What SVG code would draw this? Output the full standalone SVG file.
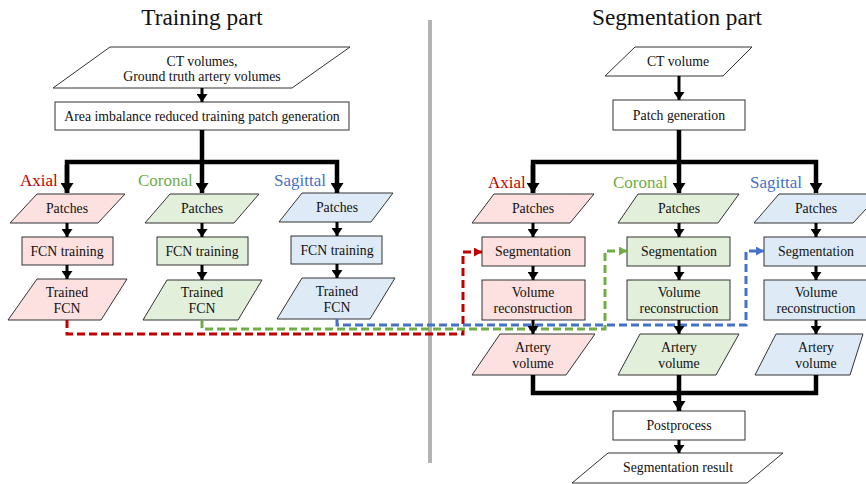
<svg xmlns="http://www.w3.org/2000/svg" width="866" height="484" viewBox="0 0 866 484">
<style>
  text { font-family: "Liberation Serif", "Times New Roman", serif; fill: #111; text-anchor: middle; }
  .t { font-size: 13.8px; }
  .title { font-size: 23.3px; }
  .lab { font-size: 17px; text-anchor: start; }
  .n { stroke: #333; stroke-width: 1; }
  .w { fill: #fff; }
  .r { fill: #fde0e0; }
  .g { fill: #e2efda; }
  .b { fill: #deebf7; }
  .thin { stroke: #000; stroke-width: 3; fill: none; }
  .thick { stroke: #000; stroke-width: 4.5; fill: none; }
  .dash { stroke-width: 3; fill: none; stroke-dasharray: 8 4; }
</style>
<defs>
  <marker id="ah" markerUnits="userSpaceOnUse" markerWidth="11" markerHeight="11" refX="8" refY="5.5" orient="auto" viewBox="0 0 8 11">
    <path d="M0,0 L8,5.5 L0,11 z" fill="#000"/>
  </marker>
  <marker id="ahT" markerUnits="userSpaceOnUse" markerWidth="10" markerHeight="13" refX="10" refY="6.5" orient="auto" viewBox="0 0 10 13">
    <path d="M0,0 L10,6.5 L0,13 z" fill="#000"/>
  </marker>
  <marker id="ahR" markerUnits="userSpaceOnUse" markerWidth="8" markerHeight="9" refX="8" refY="4.5" orient="auto" viewBox="0 0 8 9">
    <path d="M0,0 L8,4.5 L0,9 z" fill="#c00000"/>
  </marker>
  <marker id="ahG" markerUnits="userSpaceOnUse" markerWidth="8" markerHeight="9" refX="8" refY="4.5" orient="auto" viewBox="0 0 8 9">
    <path d="M0,0 L8,4.5 L0,9 z" fill="#70ad47"/>
  </marker>
  <marker id="ahB" markerUnits="userSpaceOnUse" markerWidth="8" markerHeight="9" refX="8" refY="4.5" orient="auto" viewBox="0 0 8 9">
    <path d="M0,0 L8,4.5 L0,9 z" fill="#4472c4"/>
  </marker>
</defs>

<rect width="866" height="484" fill="#fff"/>

<!-- titles and labels -->
<text class="title" x="202" y="25">Training part</text>
<text class="title" x="677" y="25">Segmentation part</text>
<line x1="430" y1="20" x2="430" y2="463" stroke="#b3b3b3" stroke-width="4"/>

<text class="lab" x="20" y="186" style="fill:#c00000">Axial</text>
<text class="lab" x="138" y="186" style="fill:#70ad47">Coronal</text>
<text class="lab" x="274" y="186" style="fill:#4472c4">Sagittal</text>
<text class="lab" x="488" y="188" style="fill:#c00000">Axial</text>
<text class="lab" x="613" y="188" style="fill:#70ad47">Coronal</text>
<text class="lab" x="750" y="188" style="fill:#4472c4">Sagittal</text>

<!-- Training nodes -->
<g id="ct-volumes">
  <polygon class="n w" points="110,47 350,47 292,88 53,88"/>
  <text class="t" x="202" y="66">CT volumes,</text>
  <text class="t" x="202" y="81">Ground truth artery volumes</text>
</g>
<g id="area-imbalance">
  <rect class="n w" x="55" y="102" width="294" height="28"/>
  <text class="t" x="202" y="121">Area imbalance reduced training patch generation</text>
</g>

<g id="tr-axial-patches">
  <polygon class="n r" points="37,194 125,194 98,223 10,223"/>
  <text class="t" x="67" y="213">Patches</text>
</g>
<g id="tr-coronal-patches">
  <polygon class="n g" points="170,194 259,194 234,223 145,223"/>
  <text class="t" x="202" y="213">Patches</text>
</g>
<g id="tr-sagittal-patches">
  <polygon class="n b" points="302,193 393,193 371,222 279,222"/>
  <text class="t" x="337" y="212">Patches</text>
</g>

<g id="tr-axial-fcn">
  <rect class="n r" x="22" y="237" width="91" height="28"/>
  <text class="t" x="67" y="256">FCN training</text>
</g>
<g id="tr-coronal-fcn">
  <rect class="n g" x="157" y="237" width="91" height="28"/>
  <text class="t" x="202" y="256">FCN training</text>
</g>
<g id="tr-sagittal-fcn">
  <rect class="n b" x="291" y="236" width="91" height="28"/>
  <text class="t" x="337" y="255">FCN training</text>
</g>

<g id="tr-axial-trained">
  <polygon class="n r" points="37,279 127,279 101,320 8,320"/>
  <text class="t" x="67" y="297">Trained</text>
  <text class="t" x="67" y="313">FCN</text>
</g>
<g id="tr-coronal-trained">
  <polygon class="n g" points="167,280 262,280 238,320 143,320"/>
  <text class="t" x="202" y="297">Trained</text>
  <text class="t" x="202" y="313">FCN</text>
</g>
<g id="tr-sagittal-trained">
  <polygon class="n b" points="302,278 395,278 370,319 277,319"/>
  <text class="t" x="337" y="296">Trained</text>
  <text class="t" x="337" y="312">FCN</text>
</g>

<!-- Segmentation nodes -->
<g id="ct-volume">
  <polygon class="n w" points="635,47 752,47 723,76 605,76"/>
  <text class="t" x="678" y="66">CT volume</text>
</g>
<g id="patch-generation">
  <rect class="n w" x="613" y="100" width="132" height="30"/>
  <text class="t" x="679" y="120">Patch generation</text>
</g>

<g id="sg-axial-patches">
  <polygon class="n r" points="494,194 594,194 570,223 472,223"/>
  <text class="t" x="533" y="213">Patches</text>
</g>
<g id="sg-coronal-patches">
  <polygon class="n g" points="638,194 739,194 718,223 618,223"/>
  <text class="t" x="679" y="213">Patches</text>
</g>
<g id="sg-sagittal-patches">
  <polygon class="n b" points="779,194 880,194 853,223 754,223"/>
  <text class="t" x="816" y="213">Patches</text>
</g>

<g id="sg-axial-seg">
  <rect class="n r" x="482" y="237" width="103" height="29"/>
  <text class="t" x="533" y="256">Segmentation</text>
</g>
<g id="sg-coronal-seg">
  <rect class="n g" x="627" y="237" width="103" height="29"/>
  <text class="t" x="679" y="256">Segmentation</text>
</g>
<g id="sg-sagittal-seg">
  <rect class="n b" x="764" y="237" width="103" height="29"/>
  <text class="t" x="816" y="256">Segmentation</text>
</g>

<g id="sg-axial-recon">
  <rect class="n r" x="482" y="280" width="103" height="40"/>
  <text class="t" x="533" y="297">Volume</text>
  <text class="t" x="533" y="313">reconstruction</text>
</g>
<g id="sg-coronal-recon">
  <rect class="n g" x="627" y="280" width="103" height="40"/>
  <text class="t" x="679" y="297">Volume</text>
  <text class="t" x="679" y="313">reconstruction</text>
</g>
<g id="sg-sagittal-recon">
  <rect class="n b" x="764" y="280" width="103" height="40"/>
  <text class="t" x="816" y="297">Volume</text>
  <text class="t" x="816" y="313">reconstruction</text>
</g>

<g id="sg-axial-artery">
  <polygon class="n r" points="500,334 595,334 566,375 472,375"/>
  <text class="t" x="533" y="352">Artery</text>
  <text class="t" x="533" y="368">volume</text>
</g>
<g id="sg-coronal-artery">
  <polygon class="n g" points="640,334 739,334 716,375 618,375"/>
  <text class="t" x="679" y="352">Artery</text>
  <text class="t" x="679" y="368">volume</text>
</g>
<g id="sg-sagittal-artery">
  <polygon class="n b" points="776,334 863,334 850,375 755,375"/>
  <text class="t" x="816" y="352">Artery</text>
  <text class="t" x="816" y="368">volume</text>
</g>

<g id="postprocess">
  <rect class="n w" x="613" y="411" width="132" height="29"/>
  <text class="t" x="679" y="430">Postprocess</text>
</g>
<g id="seg-result">
  <polygon class="n w" points="608,453 783,453 747,483 572,483"/>
  <text class="t" x="678" y="472">Segmentation result</text>
</g>

<!-- connectors -->
<g id="connectors">
  <path class="dash" stroke="#c00000" d="M67,320 V334 H463 V252 H482" marker-end="url(#ahR)"/>
  <path class="dash" stroke="#70ad47" d="M202,320 V329 H605 V251 H627" marker-end="url(#ahG)"/>
  <path class="dash" stroke="#4472c4" d="M337,319 V325 H746 V251 H764" marker-end="url(#ahB)"/>

  <path class="thin" d="M202,88 V102" marker-end="url(#ah)"/>
  <path class="thick" d="M202,130 V193" marker-end="url(#ahT)"/>
  <path class="thick" d="M67,193 V162 H337 V193" marker-end="url(#ahT)"/>
  <path class="thick" d="M67,165 V193" marker-end="url(#ahT)"/>

  <path class="thin" d="M67,223 V237" marker-end="url(#ah)"/>
  <path class="thin" d="M202,223 V237" marker-end="url(#ah)"/>
  <path class="thin" d="M337,222 V236" marker-end="url(#ah)"/>
  <path class="thin" d="M67,265 V279" marker-end="url(#ah)"/>
  <path class="thin" d="M202,265 V280" marker-end="url(#ah)"/>
  <path class="thin" d="M337,264 V278" marker-end="url(#ah)"/>

  <path class="thin" d="M679,76 V100" marker-end="url(#ah)"/>
  <path class="thick" d="M679,130 V193" marker-end="url(#ahT)"/>
  <path class="thick" d="M533,193 V162 H816 V193" marker-end="url(#ahT)"/>
  <path class="thick" d="M533,165 V193" marker-end="url(#ahT)"/>

  <path class="thin" d="M533,223 V237" marker-end="url(#ah)"/>
  <path class="thin" d="M679,223 V237" marker-end="url(#ah)"/>
  <path class="thin" d="M816,223 V237" marker-end="url(#ah)"/>
  <path class="thin" d="M533,266 V280" marker-end="url(#ah)"/>
  <path class="thin" d="M679,266 V280" marker-end="url(#ah)"/>
  <path class="thin" d="M816,266 V280" marker-end="url(#ah)"/>
  <path class="thin" d="M533,320 V334" marker-end="url(#ah)"/>
  <path class="thin" d="M679,320 V334" marker-end="url(#ah)"/>
  <path class="thin" d="M816,320 V334" marker-end="url(#ah)"/>

  <path class="thick" d="M533,375 V393 H816 V375"/>
  <path class="thick" d="M679,375 V411" marker-end="url(#ahT)"/>
  <path class="thin" d="M679,440 V453" marker-end="url(#ah)"/>
</g>
</svg>
